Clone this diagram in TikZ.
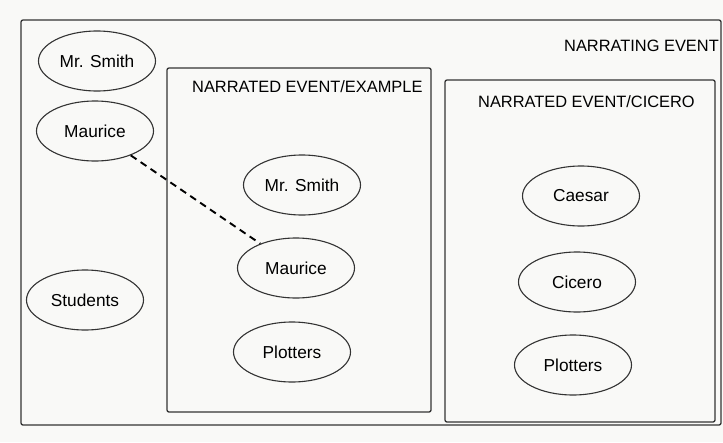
\documentclass[tikz,border=0pt]{standalone}
\usepackage{fontspec}
\setmainfont{Liberation Sans}
\usepackage{tikz}
\usetikzlibrary{shapes.geometric}
\usetikzlibrary{positioning}
\definecolor{ink}{rgb}{0.2,0.2,0.2}
\definecolor{paper}{rgb}{0.975,0.975,0.97}

\begin{document}
\begin{tikzpicture}[x=1pt, y=-1pt,
		person/.style={ellipse, draw=ink, line width=1.1pt, inner sep=0pt,
			minimum width=117pt, minimum height=60pt, font=\fontsize{17.3}{20}\selectfont},
		frame/.style={draw=ink, line width=1.3pt, rounded corners=2pt},
		title/.style={font=\fontsize{16.4}{19}\selectfont, inner sep=0pt},
		link/.style={line width=1.9pt, dash pattern=on 7pt off 5pt}
	]
	\fill[paper] (0,0) rectangle (723,442);
	\useasboundingbox (0,0) rectangle (723,442);

	% event frames
	\draw[frame] (21,20) rectangle (721,425);
	\draw[frame] (167,68) rectangle (431,412);
	\draw[frame] (445,80) rectangle (715,422);

	\node[title, anchor=east] (narrating) at (719,46) {NARRATING EVENT};
	\node[title, anchor=west] (example) at (192,87) {NARRATED EVENT/EXAMPLE};
	\node[title, anchor=west] (cicerot) at (478,102) {NARRATED EVENT/CICERO};

	% narrating event
	\node[person] (smithL) at (97,61) {Mr. Smith};
	\node[person] (mauL) at (95,131) {Maurice};
	\node[person] (stud) at (85,300) {Students};

	% example
	\node[person] (smithE) at (302,185) {Mr. Smith};
	\node[person] (mauE) at (296,268) {Maurice};
	\node[person] (plotE) at (292,352) {Plotters};

	% cicero
	\node[person] (caesar) at (581,196) {Caesar};
	\node[person] (cicero) at (577,282) {Cicero};
	\node[person] (plotC) at (573,365) {Plotters};

	\draw[link] (mauL)--(mauE);
\end{tikzpicture}
\end{document}
